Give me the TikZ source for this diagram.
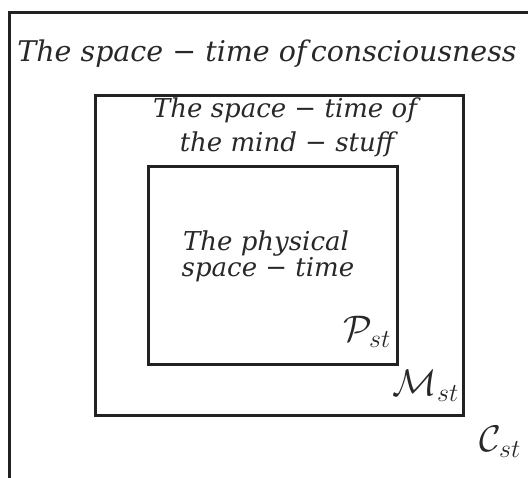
\RequirePackage{fix-cm}
\documentclass[tikz,border=0pt]{standalone}
\usepackage{amsmath,amssymb}
\usepackage{fontspec}
\setmainfont{DejaVu Serif}
\usepackage{tikz}
\usetikzlibrary{positioning,calc}
\definecolor{boxline}{RGB}{34,34,34}
\definecolor{labeltext}{RGB}{40,40,40}

\tikzset{
  boxedge/.style={draw=boxline, line width=3pt},
  spacetext/.style={anchor=base, inner sep=0pt, text=labeltext,
                    font=\fontsize{26}{27}\selectfont\itshape},
  spacelabel/.style={anchor=base east, inner sep=0pt, text=labeltext,
                     font=\fontsize{37}{40}\selectfont}
}

\begin{document}
\begin{tikzpicture}[x=1pt,y=-1pt]
  \useasboundingbox (0,0) rectangle (528,478);
  % nested regions
  \draw[boxedge] (9,478) -- (9,13) -- (528,13);
  \draw[boxedge] (95,96) rectangle (463,416);
  \draw[boxedge] (148,167) rectangle (397,365);
  % titles
  \node[spacetext, font=\fontsize{28.5}{30}\selectfont\itshape] (consc) at (267,62)
    {The space − time of\hspace{0.15em}consciousness};
  \node[spacetext] (mind1) at (285,118) {The space − time of};
  \node[spacetext] (mind2) at (287,152) {the mind − stuff};
  \node[spacetext] (phys1) at (266,251) {The physical};
  \node[spacetext] (phys2) at (268,277) {space − time};
  % symbols
  \node[spacelabel] (pst) at (391,342) {$\mathcal{P}_{st}$};
  \node[spacelabel] (mst) at (459,396) {$\mathcal{M}_{st}$};
  \node[spacelabel] (cst) at (521,452) {$\mathcal{C}_{st}$};
\end{tikzpicture}
\end{document}
